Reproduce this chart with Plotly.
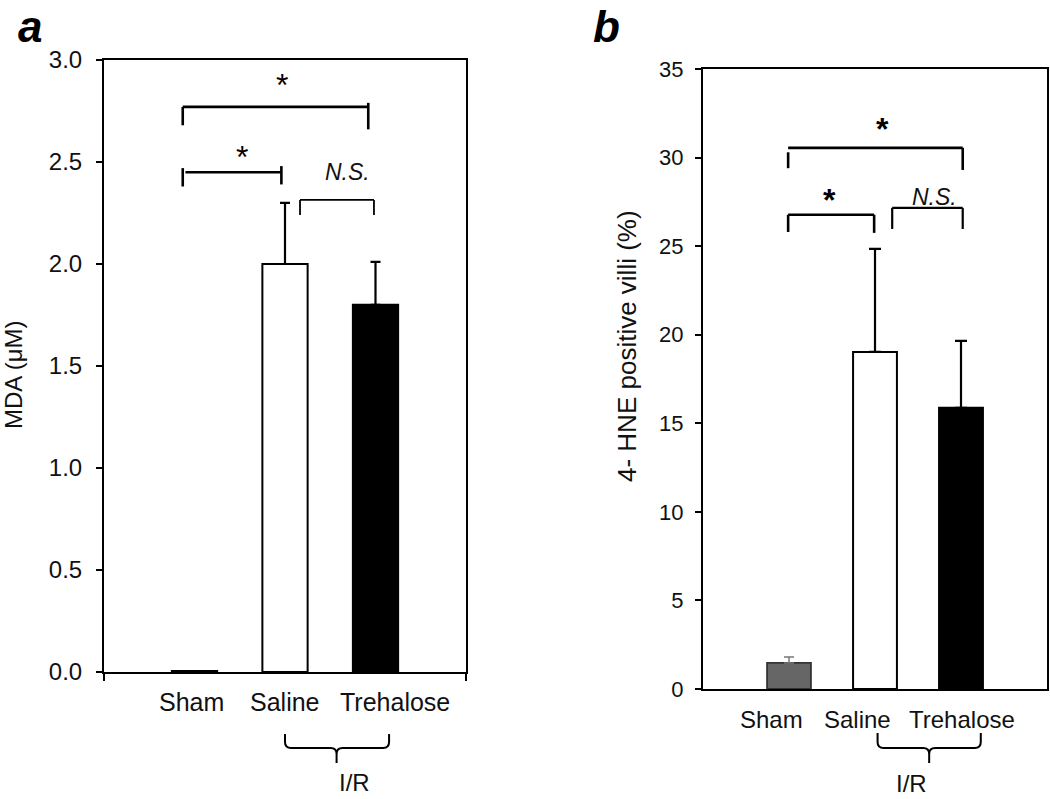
import plotly.graph_objects as go

# ---------------- data ----------------
categories = ["Sham", "Saline", "Trehalose"]
xpos = [1, 2, 3]
mda_mean = [0.005, 2.00, 1.80]
mda_err = [0.0, 0.30, 0.21]
hne_mean = [1.47, 19.03, 15.87]
hne_err = [0.33, 5.82, 3.78]
mda_ticks = [0.0, 0.5, 1.0, 1.5, 2.0, 2.5, 3.0]
hne_ticks = [0, 5, 10, 15, 20, 25, 30, 35]
fill_a = ["#ffffff", "#ffffff", "#000000"]
fill_b = ["#666666", "#ffffff", "#000000"]
line_b = ["#333333", "#000000", "#000000"]
err_b = ["#777777", "#000000", "#000000"]

W, H = 1050, 799
FONT = "Arial, Liberation Sans, sans-serif"

# panel domains (paper)
xa_dom = [104 / W, 466 / W]
ya_dom = [1 - 672 / H, 1 - 60 / H]
xb_dom = [703 / W, 1047 / W]
yb_dom = [1 - 689 / H, 1 - 69 / H]
XR = [0, 4]


def xpaper(dom, x):
    return dom[0] + (x - XR[0]) / (XR[1] - XR[0]) * (dom[1] - dom[0])


def ypaper(py):
    return 1 - py / H


fig = go.Figure()

for i, c in enumerate(categories):
    fig.add_trace(go.Bar(
        x=[xpos[i]], y=[mda_mean[i]], width=0.5, xaxis="x", yaxis="y",
        marker=dict(color=fill_a[i], line=dict(color="#000000", width=2)),
        error_y=dict(type="data", array=[mda_err[i]], symmetric=False, arrayminus=[0],
                     color="#000000", thickness=2.2, width=5, visible=mda_err[i] > 0),
        showlegend=False, name=c))
    fig.add_trace(go.Bar(
        x=[xpos[i]], y=[hne_mean[i]], width=0.51, xaxis="x2", yaxis="y2",
        marker=dict(color=fill_b[i], line=dict(color=line_b[i], width=2 if i else 1.8)),
        error_y=dict(type="data", array=[hne_err[i]], symmetric=False, arrayminus=[0],
                     color=err_b[i], thickness=2.2 if i else 1.5, width=6 if i else 5),
        showlegend=False, name=c))

axis_common = dict(showline=True, linecolor="#000000", linewidth=2, mirror=True,
                   showgrid=False, zeroline=False, fixedrange=True, automargin=False)

fig.update_layout(
    template="none",
    width=W, height=H, autosize=False,
    margin=dict(l=0, r=0, t=0, b=0, pad=0),
    paper_bgcolor="white", plot_bgcolor="white",
    barmode="overlay",
    font=dict(family=FONT, color="#111111"),
    xaxis=dict(domain=xa_dom, range=XR, tickvals=[0, 4], ticks="outside", ticklen=7,
               tickwidth=2, tickcolor="#000000", showticklabels=False, anchor="y", **axis_common),
    yaxis=dict(domain=ya_dom, range=[0, 3], tickvals=mda_ticks, tickformat=".1f",
               ticks="outside", ticklen=6, tickwidth=1.5, tickcolor="#000000",
               ticklabelstandoff=9, tickfont=dict(size=24, family=FONT, color="#111111"),
               anchor="x", **axis_common),
    xaxis2=dict(domain=xb_dom, range=XR, showticklabels=False, ticks="", anchor="y2", **axis_common),
    yaxis2=dict(domain=yb_dom, range=[0, 35], tickvals=hne_ticks,
                ticks="outside", ticklen=6, tickwidth=1.5, tickcolor="#000000",
                ticklabelstandoff=7, tickfont=dict(size=22, family=FONT, color="#111111"),
                anchor="x2", **axis_common),
)

shapes = []
annotations = []


def seg(xr, yr, x0, y0, x1, y1, w):
    shapes.append(dict(type="line", xref=xr, yref=yr, x0=x0, y0=y0, x1=x1, y1=y1,
                       line=dict(color="#000000", width=w)))


# ---------- panel a brackets (data coords) ----------
seg("x", "y", 0.87, 2.77, 2.92, 2.77, 2.6)
seg("x", "y", 0.87, 2.77, 0.87, 2.68, 2.6)
seg("x", "y", 2.92, 2.79, 2.92, 2.66, 2.6)

seg("x", "y", 0.90, 2.45, 1.96, 2.45, 2.6)
seg("x", "y", 0.87, 2.47, 0.87, 2.38, 2.6)
seg("x", "y", 1.96, 2.48, 1.96, 2.39, 2.6)

seg("x", "y", 2.166, 2.314, 2.983, 2.314, 1.8)
seg("x", "y", 2.166, 2.314, 2.166, 2.24, 1.8)
seg("x", "y", 2.983, 2.314, 2.983, 2.24, 1.8)

# ---------- panel b brackets ----------
seg("x2", "y2", 0.99, 30.55, 3.02, 30.55, 2.6)
seg("x2", "y2", 0.99, 30.3, 0.99, 29.4, 2.6)
seg("x2", "y2", 3.02, 30.55, 3.02, 29.3, 2.6)

seg("x2", "y2", 0.99, 26.77, 1.99, 26.77, 2.6)
seg("x2", "y2", 0.99, 26.77, 0.99, 25.8, 2.6)
seg("x2", "y2", 1.99, 26.77, 1.99, 25.75, 2.6)

seg("x2", "y2", 2.20, 27.16, 3.02, 27.16, 2.2)
seg("x2", "y2", 2.20, 27.16, 2.20, 25.97, 2.2)
seg("x2", "y2", 3.02, 27.16, 3.02, 25.97, 2.2)


def star(xr, yr, x, y, bold):
    annotations.append(dict(xref=xr, yref=yr, x=x, y=y, text="<b>*</b>" if bold else "*",
                            showarrow=False, yanchor="middle", xanchor="center", yshift=-7,
                            font=dict(size=32, family=FONT, color="#000000")))


star("x", "y", 1.967, 2.91, False)
star("x", "y", 1.525, 2.56, False)
star("x2", "y2", 2.09, 32.0, True)
star("x2", "y2", 1.47, 28.0, True)

annotations.append(dict(xref="x", yref="y", x=2.69, y=2.45, text="<i>N.S.</i>", showarrow=False,
                        font=dict(size=23, family=FONT, color="#111111")))
annotations.append(dict(xref="x2", yref="y2", x=2.69, y=27.8, text="<i>N.S.</i>", showarrow=False,
                        font=dict(size=23, family=FONT, color="#111111")))

# ---------- category labels ----------
lab_a_x = [0.972, 2.0, 3.215]
lab_b_x = [0.80, 1.80, 3.01]
for i, c in enumerate(categories):
    annotations.append(dict(xref="x", yref="paper", x=lab_a_x[i], y=ypaper(702), text=c,
                            showarrow=False, yanchor="middle",
                            font=dict(size=25, family=FONT, color="#111111")))
    annotations.append(dict(xref="x2", yref="paper", x=lab_b_x[i], y=ypaper(719), text=c,
                            showarrow=False, yanchor="middle",
                            font=dict(size=24, family=FONT, color="#111111")))


# ---------- braces ----------
def brace(dom, x0, x1, xm, ytop, yh, ybot, r=6):
    X0, X1, XM = (xpaper(dom, v) * W for v in (x0, x1, xm))

    def P(px, py):
        return f"{px / W:.5f},{1 - py / H:.5f}"

    path = (f"M {P(X0, ytop)} L {P(X0, yh - r)} Q {P(X0, yh)} {P(X0 + r, yh)} "
            f"L {P(XM - r, yh)} Q {P(XM, yh)} {P(XM, yh + r)} L {P(XM, ybot)} "
            f"M {P(XM, yh + r)} Q {P(XM, yh)} {P(XM + r, yh)} "
            f"L {P(X1 - r, yh)} Q {P(X1, yh)} {P(X1, yh - r)} L {P(X1, ytop)}")
    shapes.append(dict(type="path", xref="paper", yref="paper", path=path,
                       line=dict(color="#000000", width=2)))
    return XM


xm_a = brace(xa_dom, 2.0, 3.15, 2.57, 734, 748, 763)
xm_b = brace(xb_dom, 2.03, 3.23, 2.63, 733, 748, 763)
annotations.append(dict(xref="paper", yref="paper", x=xm_a / W, y=0, text="I/R",
                        showarrow=False, yanchor="bottom", yshift=1,
                        font=dict(size=24, family=FONT, color="#111111")))
annotations.append(dict(xref="paper", yref="paper", x=xm_b / W, y=0, text="I/R",
                        showarrow=False, yanchor="bottom",
                        font=dict(size=24, family=FONT, color="#111111")))

# ---------- axis titles ----------
annotations.append(dict(xref="paper", yref="paper", x=13 / W, y=ypaper(375), text="MDA (μM)",
                        textangle=-90, showarrow=False, xanchor="center", yanchor="middle",
                        font=dict(size=24, family=FONT, color="#111111")))
annotations.append(dict(xref="paper", yref="paper", x=627 / W, y=ypaper(346),
                        text="4- HNE positive villi (%)",
                        textangle=-90, showarrow=False, xanchor="center", yanchor="middle",
                        font=dict(size=26, family=FONT, color="#111111")))

# ---------- panel letters ----------
annotations.append(dict(xref="paper", yref="paper", x=30 / W, y=1, text="<b><i>a</i></b>",
                        showarrow=False, xanchor="center", yanchor="top",
                        font=dict(size=44, family=FONT, color="#000000")))
annotations.append(dict(xref="paper", yref="paper", x=606 / W, y=1, text="<b><i>b</i></b>",
                        showarrow=False, xanchor="center", yanchor="top",
                        font=dict(size=44, family=FONT, color="#000000")))

fig.update_layout(shapes=shapes, annotations=annotations)
fig.write_html("out.html", config={"displayModeBar": False},
               post_script="document.body.style.margin='0';document.body.style.overflow='hidden';")
